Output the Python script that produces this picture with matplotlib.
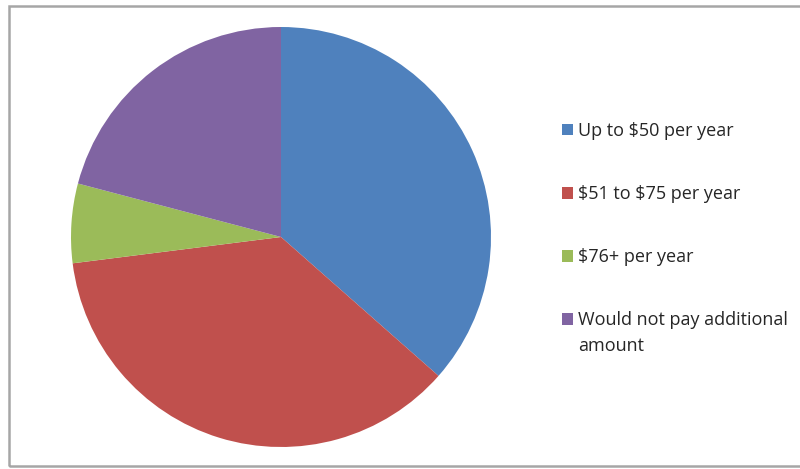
import matplotlib
matplotlib.use("Agg")
import matplotlib.pyplot as plt
from matplotlib.patches import Rectangle

labels = ["Up to \\$50 per year", "\\$51 to \\$75 per year", "\\$76+ per year",
          "Would not pay additional"]
label_cont = "amount"
values = [36.5, 36.5, 6.1, 20.9]
colors = ["#4f81bd", "#c0504d", "#9bbb59", "#8064a2"]

plt.rcParams['font.family'] = ['Open Sans', 'DejaVu Sans']

W, H = 800, 469
fig = plt.figure(figsize=(W / 100, H / 100), dpi=100)

# border
fig.patches.append(Rectangle((9 / W, 3 / H), 1.0, (463 - 3) / H, transform=fig.transFigure,
                             fill=False, edgecolor="#a6a6a6", linewidth=1.8))

cx, cy, r = 281, 237, 210
ax = fig.add_axes([(cx - r) / W, (H - cy - r) / H, 2 * r / W, 2 * r / H])
wedges, _ = ax.pie(values, colors=colors, startangle=90, counterclock=False, radius=1.0,
                   wedgeprops=dict(linewidth=0))
ax.set_xlim(-1, 1)
ax.set_ylim(-1, 1)
ax.set_aspect('equal')
ax.axis('off')

fs = 13
leg = fig.legend(wedges, labels, loc='upper left', bbox_to_anchor=(562 / W, 1 - 122 / H),
                 frameon=False, fontsize=fs, handlelength=0.6, handleheight=0.6,
                 handletextpad=0.3, labelspacing=2.5, borderpad=0, borderaxespad=0,
                 labelcolor="#262626")
fig.text(578 / W, 1 - 346 / H, label_cont, fontsize=fs, color="#262626",
         ha='left', va='center')

fig.savefig("out.png", dpi=100)
